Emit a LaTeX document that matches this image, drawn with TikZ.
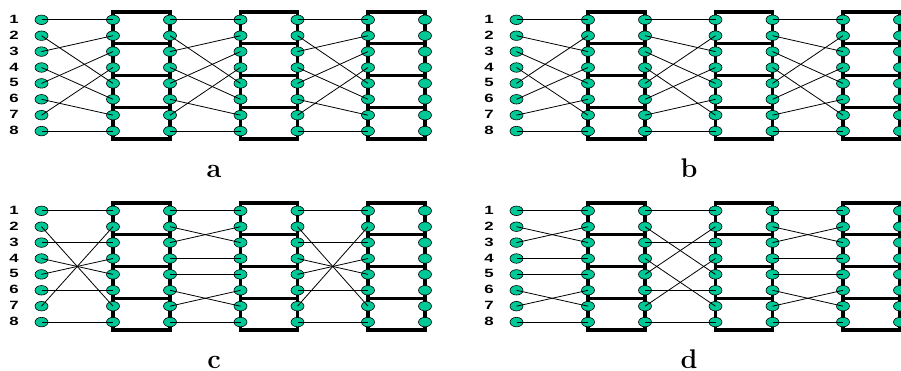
\documentclass[tikz,border=0pt]{standalone}
\usepackage{fontspec}
\usepackage{tikz}
\usetikzlibrary{shapes.geometric}
\newfontfamily\labelfont[FakeStretch=1.4]{Liberation Sans}
\definecolor{portgreen}{RGB}{0,200,150}

% one three-stage network: #1 name, (#2,#3) offset, #4-#6 wiring, #7 caption
\newcommand{\switchnet}[7]{%
\begin{scope}[shift={(#2,#3)}]
% switch boxes
\foreach \stg/\xc in {1/141.5,2/269,3/396.5}
  \foreach \sw in {1,...,4}
    \node[switchbox] (#1-sw\stg-\sw) at (\xc,{19.8+15.9*(2*\sw-1.5)}) {};
% ports and their numbers
\foreach \row in {1,...,8} {
  \node[portnum] (#1-n\row) at (14,{19.3+15.9*(\row-1)}) {\row};
  \foreach \col/\xp in {0/41.5,1/113,2/170,3/240.5,4/297.5,5/368,6/425}
    \node[port] (#1-\col-\row) at (\xp,{19.8+15.9*(\row-1)}) {};
}
% wiring between stages
\foreach \i/\j in {#4} \draw[wire] (#1-0-\i.center) -- (#1-1-\j.center);
\foreach \i/\j in {#5} \draw[wire] (#1-2-\i.center) -- (#1-3-\j.center);
\foreach \i/\j in {#6} \draw[wire] (#1-4-\i.center) -- (#1-5-\j.center);
% caption
\node[panelcap] (#1-cap) at (214,177.8) {#7};
\end{scope}}

\begin{document}
\begin{tikzpicture}[x=1pt,y=-1pt,
  switchbox/.style={draw,line width=3.4pt,minimum width=57pt,minimum height=31.8pt,inner sep=0pt},
  port/.style={ellipse,draw,line width=0.6pt,fill=portgreen,minimum width=13pt,minimum height=9.5pt,inner sep=0pt},
  portnum/.style={inner sep=0pt,font={\labelfont\fontsize{12}{14}\selectfont\bfseries}},
  wire/.style={line width=0.8pt},
  panelcap/.style={anchor=base,inner sep=0pt,font={\fontsize{27}{30}\selectfont\bfseries}}]
\useasboundingbox (0,0) rectangle (901,371);

% a
\switchnet{a}{0}{0}{1/1,2/5,3/2,4/6,5/3,6/7,7/4,8/8}{1/1,2/5,3/2,4/6,5/3,6/7,7/4,8/8}{1/1,2/5,3/2,4/6,5/3,6/7,7/4,8/8}{a}

% b
\switchnet{b}{475}{0}{1/1,2/3,3/5,4/7,5/2,6/4,7/6,8/8}{1/1,2/3,3/5,4/7,5/2,6/4,7/6,8/8}{1/1,2/3,3/5,4/7,5/2,6/4,7/6,8/8}{b}

% c
\switchnet{c}{0}{191}{1/1,2/7,3/3,4/5,5/4,6/6,7/2,8/8}{1/1,2/3,3/2,4/4,5/5,6/7,7/6,8/8}{1/1,2/7,3/3,4/5,5/4,6/6,7/2,8/8}{c}

% d
\switchnet{d}{475}{191}{1/1,2/3,3/2,4/4,5/5,6/7,7/6,8/8}{1/1,2/5,3/3,4/7,5/2,6/6,7/4,8/8}{1/1,2/3,3/2,4/4,5/5,6/7,7/6,8/8}{d}
\end{tikzpicture}
\end{document}
